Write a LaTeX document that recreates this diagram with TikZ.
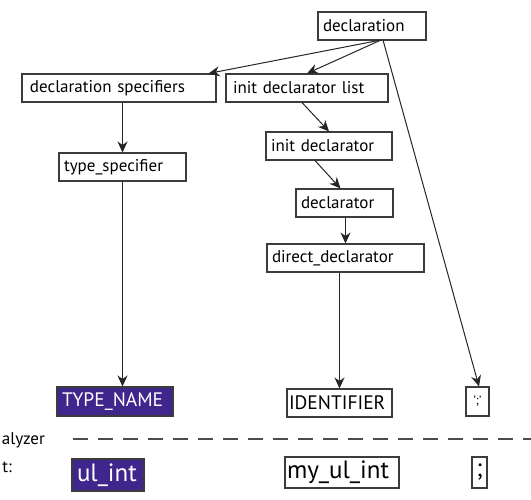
\documentclass[tikz,border=0pt]{standalone}
\usepackage{fontspec}
\setmainfont{PT Sans}
\usetikzlibrary{arrows.meta,calc}
\definecolor{tokpurple}{RGB}{62,38,140}
\definecolor{edgegray}{RGB}{60,60,60}
\tikzset{
  box/.style={draw=edgegray, line width=1.1pt, rectangle, inner xsep=5pt, inner ysep=0pt,
    align=left, font=\fontsize{17}{19}\selectfont, minimum height=28pt},
  caps/.style={font=\fontsize{19.5}{21}\selectfont},
  tok/.style={box, fill=tokpurple, text=white},
  big/.style={font=\fontsize{25}{27}\selectfont, minimum height=31pt},
  arr/.style={draw=black!85, line width=1pt, -{Stealth[length=11pt,width=10pt]}},
  sep/.style={draw=black!70, line width=1.3pt, dash pattern=on 15pt off 10pt},
  lbl/.style={font=\fontsize{17}{19}\selectfont, anchor=east, inner sep=0pt}
}
\begin{document}
\begin{tikzpicture}[x=1pt,y=-1pt]
\useasboundingbox (0,0) rectangle (531,499);
\clip (0,0) rectangle (531,499);
\fill[white] (0,0) rectangle (531,499);
% parse tree
\node[box, text width=98pt] (decl) at (372,26) {declaration};
\node[box, text width=184pt] (dspec) at (119,88) {\hspace{3pt}declaration specifiers};
\node[box, text width=152pt] (ilist) at (307,88) {\hspace{2pt}init declarator list};
\node[box, text width=117pt] (tspec) at (122.5,167) {type\_specifier};
\node[box, text width=116pt, inner xsep=5pt] (idecl) at (329,146) {init declarator};
\node[box, text width=87pt] (dcl) at (344.5,203) {declarator};
\node[box, text width=147pt] (ddcl) at (345.5,258) {direct\_declarator};
\node[tok, caps, text width=106pt, minimum height=29pt] (tname) at (115,401.5) {TYPE\_NAME};
\node[box, caps, text width=101pt, inner xsep=2pt] (ident) at (339.5,403) {IDENTIFIER};
\node[box, inner xsep=2pt, minimum width=23pt, minimum height=29pt, align=center, font=\fontsize{12}{14}\selectfont] (semi) at (477.5,401.5) {';'};
% separator and token row
\coordinate (sepL) at (73,439);
\coordinate (sepR) at (535,439);
\draw[sep] (sepL) -- (sepR);
\node[lbl] (lexlbl) at (45,440) {alyzer};
\node[lbl] (inlbl) at (12,467) {t:};
\node[tok, big, text width=62pt, minimum height=32pt] (ulint) at (108,475) {ul\_int};
\node[box, big, text width=110pt, inner xsep=2pt] (myul) at (342,472.5) {my\_ul\_int};
\node[box, big, inner xsep=1pt, minimum width=15pt, align=center] (semi2) at (479.5,472.5) {;};
% connectors
\coordinate (dfrom) at (381,40);
\draw[arr] (dfrom) -- ([xshift=-8pt]dspec.north east);
\draw[arr] (dfrom) -- (ilist.north);
\draw[arr] ([xshift=2pt]dfrom) -- ([xshift=1.5pt]semi.north);
\draw[arr] (tspec.north |- dspec.south) -- (tspec.north);
\draw[arr] (tspec.south) -- (tspec.south |- tname.north);
\draw[arr] ([xshift=-5pt]ilist.south) -- (idecl.north);
\draw[arr] ([xshift=-14pt]idecl.south) -- ([xshift=-4pt]dcl.north);
\draw[arr] (ddcl.north |- dcl.south) -- (ddcl.north);
\draw[arr] (ident.north |- ddcl.south) -- (ident.north);
\end{tikzpicture}
\end{document}
